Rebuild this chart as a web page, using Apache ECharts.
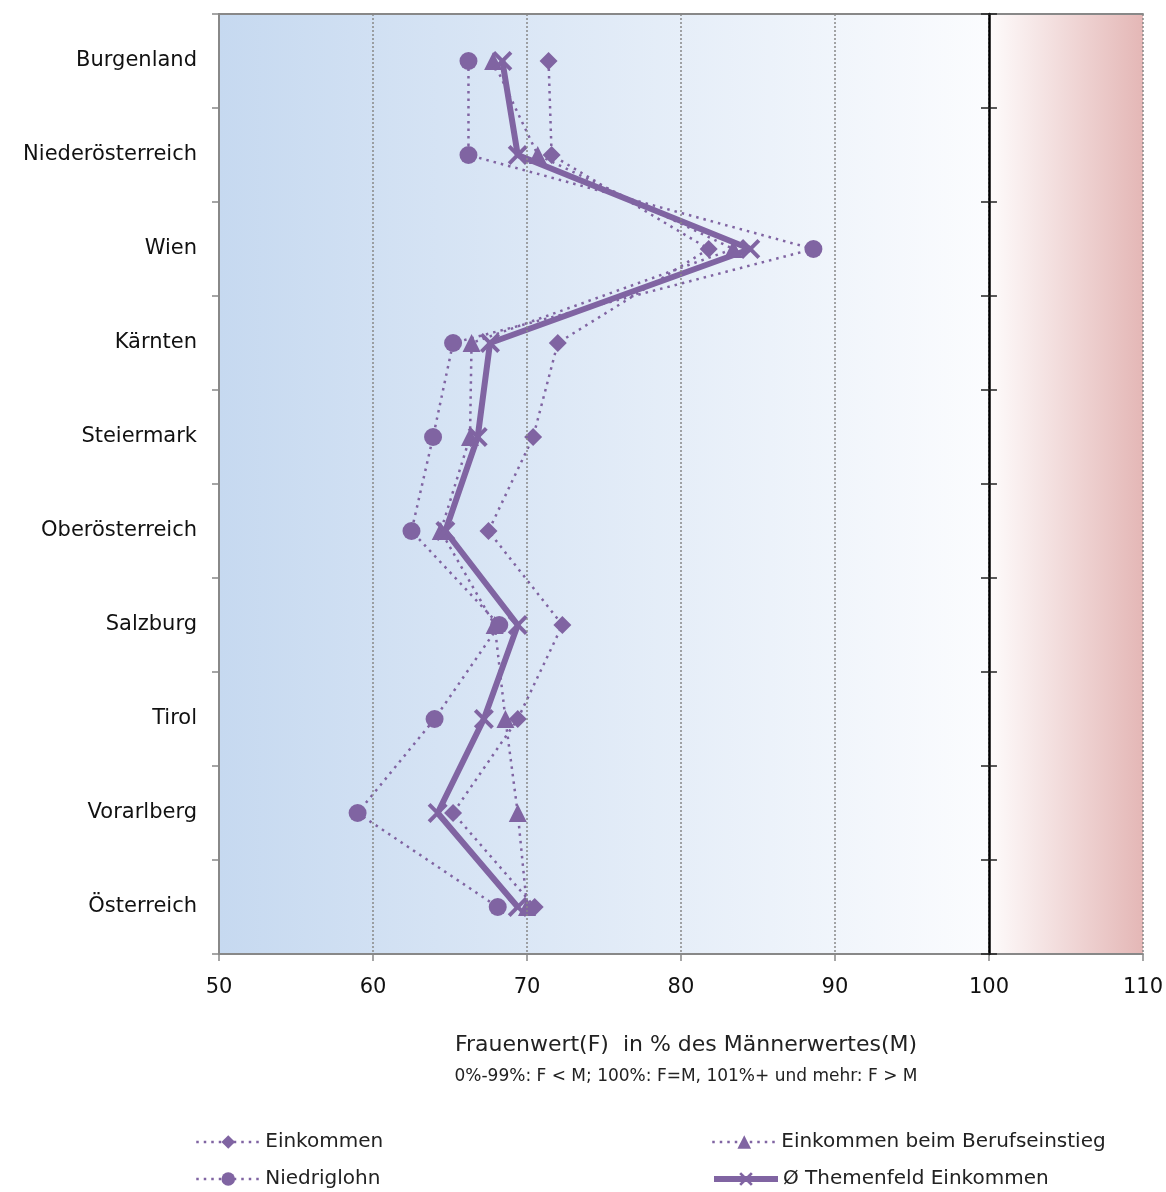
<!DOCTYPE html>
<html>
<head>
<meta charset="utf-8">
<script src="https://cdn.jsdelivr.net/npm/echarts@6/dist/echarts.min.js"></script>
<style>html,body{margin:0;padding:0;background:#fff}#c{width:1166px;height:1192px}</style>
</head>
<body>
<div id="c"></div>
<script>
const categories = ['Burgenland','Niederösterreich','Wien','Kärnten','Steiermark','Oberösterreich','Salzburg','Tirol','Vorarlberg','Österreich'];
const einkommen = [71.4,71.6,81.8,72.0,70.4,67.5,72.3,69.4,65.2,70.5];
const berufseinstieg = [67.8,70.7,83.4,66.4,66.3,64.4,67.9,68.6,69.4,70.0];
const niedriglohn = [66.2,66.2,88.6,65.2,63.9,62.5,68.2,64.0,59.0,68.1];
const themenfeld = [68.4,69.4,84.5,67.6,66.8,64.7,69.4,67.2,64.2,69.4];
const xTicks = {min:50, max:110, interval:10};
const seriesNames = ['Einkommen','Einkommen beim Berufseinstieg','Niedriglohn','Ø Themenfeld Einkommen'];

const purple = '#8064a2';
const font = 'DejaVu Sans';
const xShape = 'path://M0,1.4 L1.4,0 L5,3.6 L8.6,0 L10,1.4 L6.4,5 L10,8.6 L8.6,10 L5,6.4 L1.4,10 L0,8.6 L3.6,5 Z';
const pairs = arr => arr.map((v,i)=>[v, categories[i]]);

const dotted = (name, data, symbol, size) => ({
  name, type:'line', data: pairs(data), symbol, symbolSize:size,
  itemStyle:{color:purple}, lineStyle:{color:purple, width:2.5, type:[2.5,5]},
  z:3
});

const legendAt = (name, left, top, lw) => ({
  data:[name], left, top, padding:0, itemWidth:64, itemHeight:17,
  lineStyle: lw ? {width:lw} : {width:2.5},
  textStyle:{fontFamily:font, fontSize:20, color:'#222'}
});

const chart = echarts.init(document.getElementById('c'));
chart.setOption({
  animation:false,
  textStyle:{fontFamily:font},
  grid:{left:219, right:23, top:14, bottom:238},
  title:{
    text:'Frauenwert(F)  in % des Männerwertes(M)',
    subtext:'0%-99%: F < M; 100%: F=M, 101%+ und mehr: F > M',
    left:'681', textAlign:'center', top:1029,
    textStyle:{fontFamily:font, fontSize:22, fontWeight:'normal', color:'#222'},
    subtextStyle:{fontFamily:font, fontSize:17, color:'#222'},
    itemGap:12
  },
  legend:[
    legendAt(seriesNames[0], 195, 1132),
    legendAt(seriesNames[2], 195, 1169),
    legendAt(seriesNames[1], 711, 1132),
    legendAt(seriesNames[3], 711, 1169, 6)
  ],
  xAxis:[
    {type:'value', min:xTicks.min, max:xTicks.max, interval:xTicks.interval, position:'bottom', z:5,
     axisLine:{show:true, lineStyle:{color:'#888', width:2}},
     axisTick:{show:true, length:7, lineStyle:{color:'#888', width:1.5}},
     axisLabel:{fontSize:21, color:'#111', margin:23, fontFamily:font},
     splitLine:{show:true, lineStyle:{color:'#888', type:[2,2], width:1.5}}},
    {type:'value', min:xTicks.min, max:xTicks.max, interval:xTicks.interval, position:'top', z:5,
     axisLine:{show:true, lineStyle:{color:'#888', width:2}},
     axisTick:{show:false}, axisLabel:{show:false}, splitLine:{show:false}}
  ],
  yAxis:[
    {type:'category', data:categories, inverse:true, boundaryGap:true, z:5,
     axisLine:{show:true, lineStyle:{color:'#888', width:2}},
     axisTick:{show:true, length:7, lineStyle:{color:'#888', width:1.5}},
     axisLabel:{fontSize:21, color:'#111', margin:22, fontFamily:font, padding:[5,0,0,0]},
     splitLine:{show:false}},
    {type:'category', data:categories, inverse:true, boundaryGap:true, position:'right', offset:-154, z:6,
     axisLine:{show:true, lineStyle:{color:'#000', width:2.5}},
     axisTick:{show:true, length:8, inside:false, lineStyle:{color:'#222', width:1.5}},
     axisLabel:{show:false}, splitLine:{show:false}},
    {type:'category', data:categories, inverse:true, boundaryGap:true, position:'right', offset:-154, z:6,
     axisLine:{show:false},
     axisTick:{show:true, length:8, inside:true, lineStyle:{color:'#222', width:1.5}},
     axisLabel:{show:false}, splitLine:{show:false}}
  ],
  series:[
    {
      name:'bg', type:'line', data:[], silent:true, z:-5,
      markArea:{silent:true, z:-5, itemStyle:{opacity:1},
        data:[
          [{xAxis:50, itemStyle:{color:new echarts.graphic.LinearGradient(0,0,1,0,[{offset:0,color:'#c6d9f0'},{offset:1,color:'#fbfcfe'}])}},{xAxis:100}],
          [{xAxis:100, itemStyle:{color:new echarts.graphic.LinearGradient(0,0,1,0,[{offset:0,color:'#fdfbfb'},{offset:0.15,color:'#faf1f1'},{offset:1,color:'#e4b7b6'}])}},{xAxis:110}]
        ]}
    },
    dotted(seriesNames[0], einkommen, 'diamond', 18),
    dotted(seriesNames[1], berufseinstieg, 'triangle', 18),
    dotted(seriesNames[2], niedriglohn, 'circle', 18),
    {name:seriesNames[3], type:'line', data:pairs(themenfeld), symbol:xShape, symbolSize:20,
     itemStyle:{color:purple}, lineStyle:{color:purple, width:6}, z:4}
  ]
});
</script>
</body>
</html>
